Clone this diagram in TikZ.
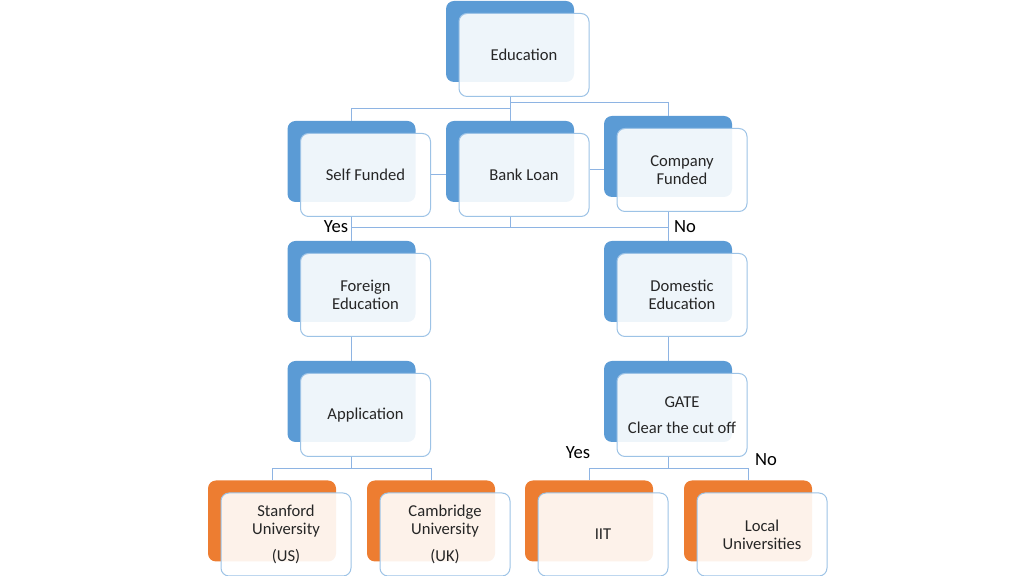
\documentclass[tikz,border=0pt]{standalone}
\usepackage{fontspec}
\setmainfont{Carlito}
\usetikzlibrary{positioning}

\definecolor{backblue}{HTML}{5B9BD5}
\definecolor{backorange}{HTML}{ED7D31}
\definecolor{edgeblue}{HTML}{9DC3E6}
\definecolor{lineblue}{HTML}{8EB4E3}
\definecolor{textgray}{HTML}{262626}

\tikzset{
  back/.style={fill=backblue, draw=none, rounded corners=4pt, inner sep=0pt,
    minimum width=64pt, minimum height=40.5pt},
  backor/.style={back, fill=backorange},
  front/.style={fill=white, fill opacity=0.9, text opacity=1, draw=edgeblue,
    line width=0.5pt, rounded corners=4pt, inner sep=0pt, align=center,
    minimum width=65pt, minimum height=41.5pt, text=textgray,
    font=\fontsize{8.3}{9}\selectfont},
  link/.style={draw=lineblue, line width=0.5pt},
  answer/.style={font=\fontsize{9.3}{11}\selectfont, text=black}
}

\begin{document}
\begin{tikzpicture}[x=0.5pt, y=-0.5pt]
        \useasboundingbox (0,0) rectangle (1024,576);

        % Root
        \node[back] (edu-b) at (510,41.5) {};
        \node[front] (edu) at ([shift={(14,13.5)}]edu-b) {Education};

        % Funding
        \node[back] (self-b) at (351.5,161.5) {};
        \node[front] (self) at ([shift={(14,13.5)}]self-b) {Self Funded};
        \node[back] (bank-b) at (510,161.5) {};
        \node[front] (bank) at ([shift={(14,13.5)}]bank-b) {Bank Loan};
        \node[back] (comp-b) at (668,156.5) {};
        \node[front] (comp) at ([shift={(14,13.5)}]comp-b) {Company\\Funded};

        % Education type
        \node[back] (foreign-b) at (351.5,281.5) {};
        \node[front] (foreign) at ([shift={(14,13.5)}]foreign-b) {Foreign\\Education};
        \node[back] (dom-b) at (668,281.5) {};
        \node[front] (dom) at ([shift={(14,13.5)}]dom-b) {Domestic\\Education};

        % Admission
        \node[back] (app-b) at (351.5,401.5) {};
        \node[front] (app) at ([shift={(14,13.5)}]app-b) {Application};
        \node[back] (gate-b) at (668,401.5) {};
        \node[front] (gate) at ([shift={(14,13.5)}]gate-b) {GATE\\[4pt]Clear the cut off};

        % Universities
        \node[backor] (stan-b) at (272,521) {};
        \node[front] (stan) at ([shift={(14,13.5)}]stan-b) {Stanford\\University\\[4.5pt](US)};
        \node[backor] (cam-b) at (431,521) {};
        \node[front] (cam) at ([shift={(14,13.5)}]cam-b) {Cambridge\\University\\[4.5pt](UK)};
        \node[backor] (iit-b) at (589,521) {};
        \node[front] (iit) at ([shift={(14,13.5)}]iit-b) {IIT};
        \node[backor] (local-b) at (748,521) {};
        \node[front] (local) at ([shift={(14,13.5)}]local-b) {Local\\Universities};

        % Edges
        \draw[link] (edu-b |- edu.south) -- (bank-b.north);
        \draw[link] (edu-b |- edu.south) -- ++(0,12) -| (self-b.north);
        \draw[link] (edu-b |- edu.south) -- ++(0,6) -| (comp-b.north);
        \draw[link] (self.east) -- (bank-b.west |- self.east);
        \draw[link] (bank.east |- comp) -- (comp-b.west |- comp);

        \coordinate (fork) at (510,228);
        \draw[link] (bank-b |- bank.south) -- (fork);
        \draw[link] (self-b |- self.south) -- (foreign-b.north);
        \draw[link] (comp-b |- comp.south) -- (dom-b.north);
        \draw[link] (self-b |- fork) -- (comp-b |- fork);

        \draw[link] (foreign-b |- foreign.south) -- (app-b.north);
        \draw[link] (dom-b |- dom.south) -- (gate-b.north);

        \draw[link] (app-b |- app.south) -- ++(0,12) -| (stan-b.north);
        \draw[link] (app-b |- app.south) -- ++(0,12) -| (cam-b.north);
        \draw[link] (gate-b |- gate.south) -- ++(0,12) -| (iit-b.north);
        \draw[link] (gate-b |- gate.south) -- ++(0,12) -| (local-b.north);

        % Labels
        \node[answer] (yes1) at (336,227) {Yes};
        \node[answer] (no1) at (685,227) {No};
        \node[answer] (yes2) at (578,453) {Yes};
        \node[answer] (no2) at (766,460) {No};
    \end{tikzpicture}
\end{document}
